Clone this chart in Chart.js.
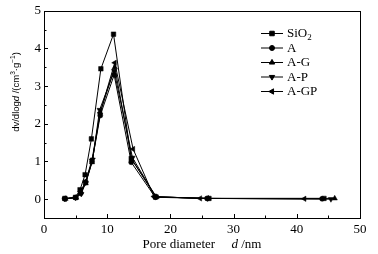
<!DOCTYPE html>
<html>
<head>
<meta charset="utf-8">
<script src="https://cdn.jsdelivr.net/npm/chart.js@4"></script>
<style>
  html, body { margin: 0; padding: 0; background: #fff; }
  #wrap { width: 378px; height: 254px; }
</style>
</head>
<body>
<div id="wrap"><canvas id="poreChart" width="378" height="254"></canvas></div>
<script>
// dados (diâmetro de poro em nm, dv/dlogd)
const seriesNames = ['SiO2', 'A', 'A-G', 'A-P', 'A-GP'];

const sio2X = [3.3, 5.0, 5.7, 6.5, 7.5, 9.0, 11.0, 13.8, 17.7, 26.1, 44.3];
const sio2Y = [0.02, 0.05, 0.25, 0.65, 1.6, 3.46, 4.38, 1.08, 0.06, 0.02, 0.02];

const aX = [3.3, 5.0, 5.8, 6.6, 7.6, 8.9, 11.1, 13.8, 17.6, 25.8, 44.0];
const aY = [0.01, 0.04, 0.16, 0.45, 1.0, 2.22, 3.3, 0.98, 0.05, 0.02, 0.01];

const agX = [3.4, 5.1, 5.8, 6.6, 7.6, 8.9, 11.2, 13.9, 17.8, 26.0, 46.0];
const agY = [0.01, 0.04, 0.18, 0.42, 0.98, 2.3, 3.5, 1.05, 0.06, 0.02, 0.02];

const apX = [3.3, 5.0, 5.9, 6.6, 7.7, 8.8, 11.1, 14.0, 17.7, 25.9, 45.4];
const apY = [0.01, 0.04, 0.14, 0.44, 1.05, 2.37, 3.4, 1.1, 0.06, 0.02, 0.0];

const agpX = [3.3, 5.1, 5.8, 6.6, 7.6, 8.9, 11.2, 14.1, 17.4, 24.7, 41.2];
const agpY = [0.01, 0.05, 0.2, 0.48, 1.05, 2.3, 3.62, 1.33, 0.07, 0.02, 0.01];

const xTicks = [0, 10, 20, 30, 40, 50];
const yTicks = [0, 1, 2, 3, 4, 5];

const toPoints = (xs, ys) => xs.map((x, i) => ({ x: x, y: ys[i] }));

// estilo de cada série (marcador)
const markers = [
  { style: 'rect', radius: 3.2, rotation: 0 },
  { style: 'circle', radius: 2.5, rotation: 0 },
  { style: 'triangle', radius: 3.1, rotation: 0 },
  { style: 'triangle', radius: 3.1, rotation: 180 },
  { style: 'triangle', radius: 3.1, rotation: 270 }
];

const allData = [
  toPoints(sio2X, sio2Y),
  toPoints(aX, aY),
  toPoints(agX, agY),
  toPoints(apX, apY),
  toPoints(agpX, agpY)
];

const datasets = allData.map((d, i) => ({
  label: seriesNames[i],
  data: d,
  borderColor: '#000',
  backgroundColor: '#000',
  borderWidth: 1,
  pointStyle: markers[i].style,
  pointRadius: markers[i].radius,
  pointRotation: markers[i].rotation,
  pointBorderWidth: 0.5,
  tension: 0
}));

// caixa, ticks para dentro, títulos e legenda
const framePlugin = {
  id: 'frame',
  afterDraw(chart) {
    const c = chart.ctx;
    const a = chart.chartArea;
    const xs = chart.scales.x;
    const ys = chart.scales.y;
    c.save();
    c.strokeStyle = '#000';
    c.lineWidth = 1;
    c.strokeRect(Math.round(a.left) + 0.5, Math.round(a.top) + 0.5,
      Math.round(a.right - a.left), Math.round(a.bottom - a.top));

    c.beginPath();
    for (let v = 0; v <= 50; v += 5) {
      const px = Math.round(xs.getPixelForValue(v)) + 0.5;
      const len = v % 10 === 0 ? 4 : 2.5;
      c.moveTo(px, a.bottom);
      c.lineTo(px, a.bottom - len);
    }
    for (let v = -0.5; v <= 5; v += 0.5) {
      const py = Math.round(ys.getPixelForValue(v)) + 0.5;
      const len = Number.isInteger(v) ? 4 : 2.5;
      c.moveTo(a.left, py);
      c.lineTo(a.left + len, py);
    }
    c.stroke();

    // título do eixo X
    c.fillStyle = '#000';
    c.textBaseline = 'alphabetic';
    const serif = '"Liberation Serif", "Times New Roman", serif';
    const p1 = 'Pore diameter     ';
    const p2 = 'd';
    const p3 = ' /nm';
    c.font = '13px ' + serif;
    const w1 = c.measureText(p1).width;
    const w3 = c.measureText(p3).width;
    c.font = 'italic 13px ' + serif;
    const w2 = c.measureText(p2).width;
    let tx = (a.left + a.right) / 2 - (w1 + w2 + w3) / 2;
    const ty = 248;
    c.font = '13px ' + serif;
    c.fillText(p1, tx, ty); tx += w1;
    c.font = 'italic 13px ' + serif;
    c.fillText(p2, tx, ty); tx += w2;
    c.font = '13px ' + serif;
    c.fillText(p3, tx, ty);

    // título do eixo Y (rotacionado)
    const sans = '"Liberation Sans", Arial, sans-serif';
    const parts = [
      { t: 'dv/dlog', f: '9.5px ' + sans, dy: 0 },
      { t: 'd', f: 'italic 9.5px ' + sans, dy: 0 },
      { t: ' /(cm', f: '9.5px ' + sans, dy: 0 },
      { t: '3', f: '6.5px ' + sans, dy: -4 },
      { t: '\u00b7g', f: '9.5px ' + sans, dy: 0 },
      { t: '\u22121', f: '6.5px ' + sans, dy: -4 },
      { t: ')', f: '9.5px ' + sans, dy: 0 }
    ];
    let total = 0;
    parts.forEach(p => { c.font = p.f; p.w = c.measureText(p.t).width; total += p.w; });
    c.translate(19, 92);
    c.rotate(-Math.PI / 2);
    let yx = -total / 2;
    parts.forEach(p => {
      c.font = p.f;
      c.fillText(p.t, yx, p.dy);
      yx += p.w;
    });
    c.restore();

    // legenda
    c.save();
    c.strokeStyle = '#000';
    c.fillStyle = '#000';
    c.lineWidth = 1;
    const lx0 = 261, lx1 = 283, ly0 = 33, step = 14.5;
    chart.data.datasets.forEach((ds, i) => {
      const y = ly0 + i * step;
      c.beginPath();
      c.moveTo(lx0, y + 0.5);
      c.lineTo(lx1, y + 0.5);
      c.stroke();
      Chart.helpers.drawPoint(c, {
        pointStyle: ds.pointStyle,
        radius: ds.pointRadius,
        rotation: ds.pointRotation,
        borderWidth: 0.5
      }, (lx0 + lx1) / 2, y + 0.5);
      c.textBaseline = 'middle';
      c.font = '13px ' + serif;
      if (ds.label === 'SiO2') {
        c.fillText('SiO', 287, y + 1);
        const w = c.measureText('SiO').width;
        c.font = '9px ' + serif;
        c.fillText('2', 287 + w, y + 5);
      } else {
        c.fillText(ds.label, 287, y + 1);
      }
    });
    c.restore();
  }
};

const ctx = document.getElementById('poreChart').getContext('2d');

const poreChart = new Chart(ctx, {
  type: 'line',
  data: { datasets: datasets },
  options: {
    responsive: false,
    animation: false,
    layout: { padding: { left: 0, right: 18, top: 9, bottom: 0 } },
    plugins: {
      legend: { display: false },
      tooltip: { enabled: false }
    },
    scales: {
      x: {
        type: 'linear',
        min: 0,
        max: 50,
        afterBuildTicks: s => { s.ticks = xTicks.map(v => ({ value: v })); },
        afterFit: s => { s.height = 36; },
        grid: { display: false, drawTicks: false },
        border: { display: false },
        ticks: {
          padding: 4,
          color: '#000',
          maxRotation: 0,
          font: { family: '"Liberation Serif", "Times New Roman", serif', size: 13 }
        }
      },
      y: {
        type: 'linear',
        min: -0.5,
        max: 5,
        afterBuildTicks: s => { s.ticks = yTicks.map(v => ({ value: v })); },
        afterFit: s => { s.width = 44; },
        grid: { display: false, drawTicks: false },
        border: { display: false },
        ticks: {
          padding: 3,
          color: '#000',
          font: { family: '"Liberation Serif", "Times New Roman", serif', size: 13 }
        }
      }
    }
  },
  plugins: [framePlugin]
});
</script>
</body>
</html>
